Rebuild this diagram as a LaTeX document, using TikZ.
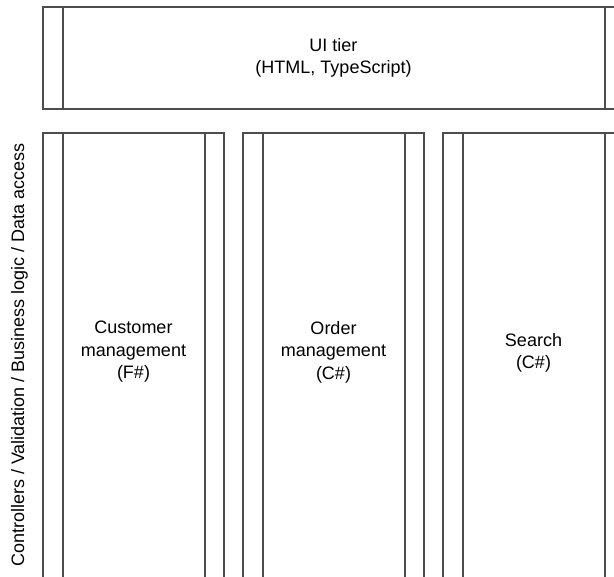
\documentclass[tikz,border=0pt]{standalone}
\usepackage{fontspec}
\setsansfont{Liberation Sans}
\usetikzlibrary{positioning}
\definecolor{framegray}{HTML}{4D4D4D}

\begin{document}
\begin{tikzpicture}[
    x=1pt,
    y=-1pt,
    font=\sffamily\fontsize{18}{22.5}\selectfont,
    tier/.style={
        draw=framegray,
        line width=1.5pt,
        minimum width=181pt,
        inner sep=0pt,
        outer sep=0pt
    },
    caption/.style={
        align=center,
        inner sep=0pt
    }
]
\useasboundingbox (0,0) rectangle (614,577);
\clip (0,0) rectangle (614,577);

% UI tier
\node[tier, minimum width=581pt, minimum height=102pt] (ui) at (333.5,58) {};
\node[caption] (uitext) at (ui.center) {UI tier\\(HTML, TypeScript)};

% Service columns
\node[tier, minimum height=487pt] (cust) at (133.5,376.5) {};
\node[tier, minimum height=487pt] (order) at (333.5,376.5) {};
\node[tier, minimum height=487pt] (search) at (533.5,376.5) {};

% Inner side bars
\foreach \tiername in {ui,cust,order,search} {
    \draw[framegray,line width=1.5pt]
        ([xshift=20pt]\tiername.north west) -- ([xshift=20pt]\tiername.south west);
    \draw[framegray,line width=1.5pt]
        ([xshift=-19pt]\tiername.north east) -- ([xshift=-19pt]\tiername.south east);
}

\node[caption] (custtext) at (133.5,352) {Customer\\management\\(F\#)};
\node[caption] (ordertext) at (333.5,352) {Order\\management\\(C\#)};
\node[caption] (searchtext) at (533.5,353) {Search\\(C\#)};

% Layer label
\node[caption, rotate=90] (layers) at (19.5,355)
    {Controllers / Validation / Business logic / Data access};

\end{tikzpicture}
\end{document}
